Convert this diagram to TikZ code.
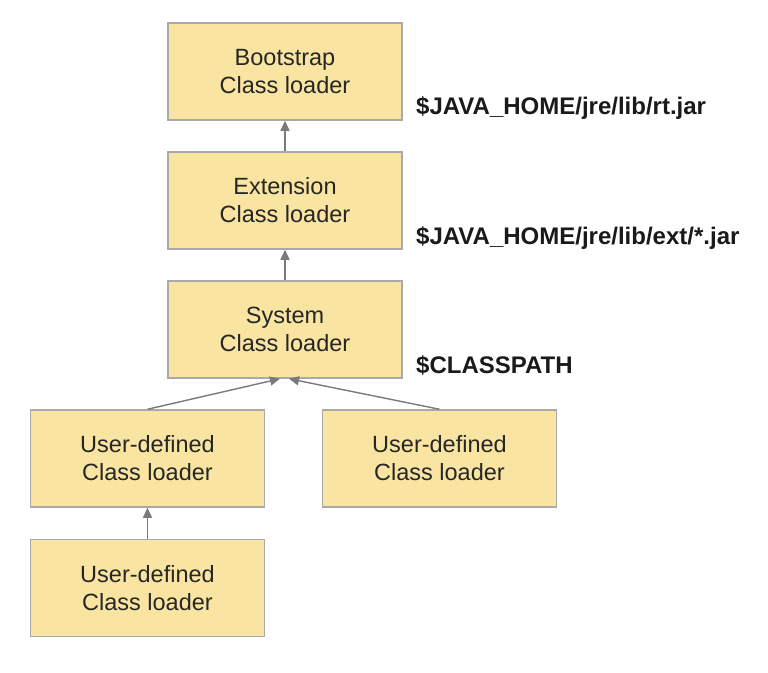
\documentclass[tikz,border=0pt]{standalone}
\usepackage{fontspec}
\setmainfont{Liberation Sans}
\usetikzlibrary{arrows.meta}
\definecolor{boxfill}{HTML}{F9E5A1}
\definecolor{boxline}{HTML}{A9A9A9}
\definecolor{arrline}{HTML}{7A7A7A}
\definecolor{labtext}{HTML}{1A1A1A}
\tikzset{
  box/.style={draw=boxline, line width=1.5pt, fill=boxfill, minimum width=234pt, minimum height=97pt, align=center, inner sep=0pt, text=black!85, font=\fontsize{23.5}{28}\selectfont},
  arr/.style={draw=arrline, line width=1.4pt, -{Triangle[length=10pt,width=9pt]}},
  lab/.style={anchor=base west, inner sep=0pt, font=\fontsize{24}{28}\selectfont\bfseries, text=labtext}
}
\begin{document}
\begin{tikzpicture}[x=1pt,y=-1pt]
\useasboundingbox[fill=white] (0,0) rectangle (768,672);
\node[box] (boot) at (285,71.5) {Bootstrap\\Class loader};
\node[box] (ext) at (285,200.5) {Extension\\Class loader};
\node[box] (sys) at (285,329.5) {System\\Class loader};
\node[box] (ul) at (147.5,458.5) {User-defined\\Class loader};
\node[box] (ur) at (439.5,458.5) {User-defined\\Class loader};
\node[box] (ub) at (147.5,588) {User-defined\\Class loader};
\draw[arr] (ext.north) -- (boot.south);
\draw[arr] (sys.north) -- (ext.south);
\draw[arr] (ul.north) -- ([xshift=-5pt]sys.south);
\draw[arr] (ur.north) -- ([xshift=4pt]sys.south);
\draw[arr] (ub.north) -- (ul.south);
\node[lab] (l1) at (416,114) {\$JAVA\_HOME/jre/lib/rt.jar};
\node[lab] (l2) at (416,244) {\$JAVA\_HOME/jre/lib/ext/*.jar};
\node[lab] (l3) at (416,373) {\$CLASSPATH};
\end{tikzpicture}
\end{document}
